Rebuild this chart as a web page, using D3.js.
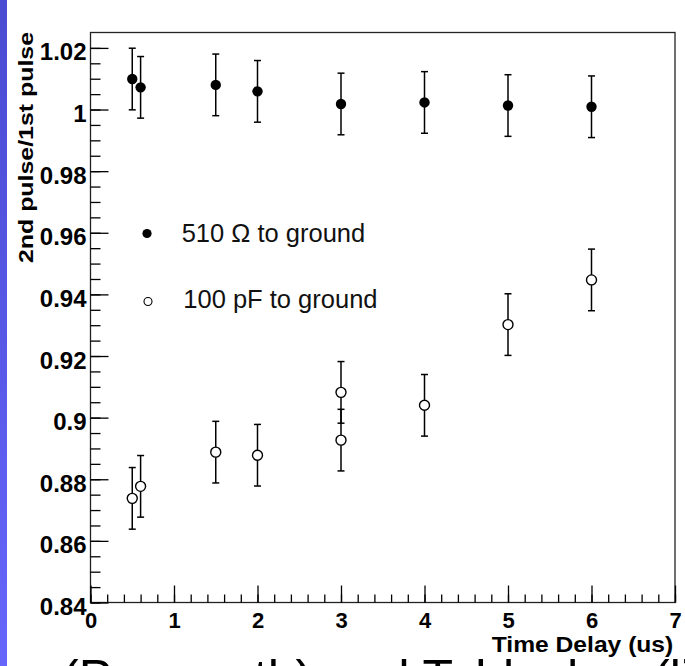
<!DOCTYPE html>
<html>
<head>
<meta charset="utf-8">
<script src="https://cdn.jsdelivr.net/npm/d3@7"></script>
<style>
  html, body { margin: 0; padding: 0; background: #fff; overflow: hidden; }
  svg { display: block; font-family: "Liberation Sans", Arial, Helvetica, sans-serif; }
</style>
</head>
<body>
<div id="chart"></div>
<script>
// values
const xTicks = [0, 1, 2, 3, 4, 5, 6, 7];
const yTicks = [0.84, 0.86, 0.88, 0.9, 0.92, 0.94, 0.96, 0.98, 1, 1.02];

const delay510 = [0.5, 0.6, 1.5, 2, 3, 4, 5, 6];
const ratio510 = [1.0099, 1.0072, 1.0080, 1.0059, 1.0018, 1.0023, 1.0013, 1.0009];
const err510   = [0.01, 0.01, 0.01, 0.01, 0.01, 0.01, 0.01, 0.01];

const delay100 = [0.5, 0.6, 1.5, 2, 3, 3, 4, 5, 6];
const ratio100 = [0.8738, 0.8777, 0.8888, 0.8878, 0.9082, 0.8927, 0.9040, 0.9302, 0.9447];
const err100   = [0.01, 0.01, 0.01, 0.01, 0.01, 0.01, 0.01, 0.01, 0.01];

const W = 685, H = 666;
const svg = d3.select("#chart").append("svg").attr("width", W).attr("height", H);

// slide background strip on the left
const grad = svg.append("defs").append("linearGradient").attr("id", "strip")
  .attr("x1", 0).attr("y1", 0).attr("x2", 0).attr("y2", 1);
grad.append("stop").attr("offset", "0%").attr("stop-color", "#4a4ad2");
grad.append("stop").attr("offset", "100%").attr("stop-color", "#6666fc");
svg.append("rect").attr("x", 0).attr("y", 0).attr("width", 7).attr("height", H).attr("fill", "url(#strip)");

const x = d3.scaleLinear().domain([0, 7]).range([90.5, 675]);
const y = d3.scaleLinear().domain([0.84, 1.025]).range([602.5, 32.5]);

// frame
svg.append("rect")
  .attr("x", x(0)).attr("y", y(1.025))
  .attr("width", x(7) - x(0)).attr("height", y(0.84) - y(1.025))
  .attr("fill", "none").attr("stroke", "#222").attr("stroke-width", 1.3);

// y axis ticks (pointing into the plot)
const yMinor = d3.range(0, 37).map(i => 0.84 + i * 0.005);
svg.append("g").attr("transform", `translate(${x(0)},0)`)
  .call(d3.axisRight(y).tickValues(yMinor).tickSize(10).tickFormat(""))
  .call(g => g.select(".domain").remove())
  .selectAll("line").attr("stroke", "#000").attr("stroke-width", 1.3);
svg.append("g").attr("transform", `translate(${x(0)},0)`)
  .call(d3.axisRight(y).tickValues(yTicks).tickSize(18).tickFormat(""))
  .call(g => g.select(".domain").remove())
  .selectAll("line").attr("stroke", "#000").attr("stroke-width", 1.3);

// y tick labels
const yLab = svg.append("g").attr("transform", `translate(${x(0) - 4},0)`)
  .call(d3.axisLeft(y).tickValues(yTicks).tickSize(0).tickPadding(0).tickFormat(d3.format("~g")));
yLab.select(".domain").remove();
yLab.selectAll("text")
  .attr("dy", null).attr("y", 12).attr("x", 0)
  .attr("font-family", "Liberation Sans, Arial, sans-serif")
  .attr("font-size", 24).attr("font-weight", "bold").attr("fill", "#000");

// x axis ticks (pointing up)
const xMinor = d3.range(0, 36).map(i => i * 0.2);
svg.append("g").attr("transform", `translate(0,${y(0.84)})`)
  .call(d3.axisTop(x).tickValues(xMinor).tickSize(8).tickFormat(""))
  .call(g => g.select(".domain").remove())
  .selectAll("line").attr("stroke", "#000").attr("stroke-width", 1.3);
svg.append("g").attr("transform", `translate(0,${y(0.84)})`)
  .call(d3.axisTop(x).tickValues(xTicks).tickSize(17).tickFormat(""))
  .call(g => g.select(".domain").remove())
  .selectAll("line").attr("stroke", "#000").attr("stroke-width", 1.3);

// x tick labels
const xLab = svg.append("g").attr("transform", `translate(0,${y(0.84)})`)
  .call(d3.axisBottom(x).tickValues(xTicks).tickSize(0).tickPadding(0).tickFormat(d3.format("d")));
xLab.select(".domain").remove();
xLab.selectAll("text")
  .attr("dy", null).attr("y", 25.5)
  .attr("font-family", "Liberation Sans, Arial, sans-serif")
  .attr("font-size", 22).attr("font-weight", "bold").attr("fill", "#000");

// axis titles
svg.append("text")
  .attr("x", 491.7).attr("y", 652)
  .attr("font-size", 22).attr("font-weight", "bold")
  .attr("textLength", 181.6).attr("lengthAdjust", "spacingAndGlyphs")
  .text("Time Delay (us)");

svg.append("text")
  .attr("transform", "translate(33,263) rotate(-90)")
  .attr("font-size", 21).attr("font-weight", "bold")
  .attr("textLength", 231).attr("lengthAdjust", "spacingAndGlyphs")
  .text("2nd pulse/1st pulse");

// series
function drawSeries(xs, ys, es, filled) {
  const pts = xs.map((t, i) => ({ t, v: ys[i], e: es[i] }));
  const g = svg.append("g");
  const eb = g.selectAll("g.err").data(pts).enter().append("g")
    .attr("stroke", "#000").attr("stroke-width", 1.5);
  eb.append("line")
    .attr("x1", d => x(d.t)).attr("x2", d => x(d.t))
    .attr("y1", d => y(d.v - d.e)).attr("y2", d => y(d.v + d.e));
  eb.append("line")
    .attr("x1", d => x(d.t) - 3.5).attr("x2", d => x(d.t) + 3.5)
    .attr("y1", d => y(d.v + d.e)).attr("y2", d => y(d.v + d.e));
  eb.append("line")
    .attr("x1", d => x(d.t) - 3.5).attr("x2", d => x(d.t) + 3.5)
    .attr("y1", d => y(d.v - d.e)).attr("y2", d => y(d.v - d.e));
  g.selectAll("circle").data(pts).enter().append("circle")
    .attr("cx", d => x(d.t)).attr("cy", d => y(d.v))
    .attr("r", filled ? 5.2 : 5)
    .attr("fill", filled ? "#000" : "#fff")
    .attr("stroke", "#000").attr("stroke-width", filled ? 0 : 1.4);
}
drawSeries(delay510, ratio510, err510, true);
drawSeries(delay100, ratio100, err100, false);

// legend
const legend = svg.append("g");
legend.append("circle").attr("cx", 147).attr("cy", 233.5).attr("r", 4.6).attr("fill", "#000");
legend.append("text").attr("x", 181.7).attr("y", 241.7).attr("font-size", 25.5).attr("fill", "#111")
  .text("510 \u03A9 to ground");
legend.append("circle").attr("cx", 148).attr("cy", 301.5).attr("r", 4).attr("fill", "#fff")
  .attr("stroke", "#000").attr("stroke-width", 1.1);
legend.append("text").attr("x", 183.3).attr("y", 308.3).attr("font-size", 25.5).attr("fill", "#111")
  .text("100 pF to ground");

// slide text cut off at the bottom
svg.append("text").attr("x", 62).attr("y", 695).attr("font-size", 50).attr("fill", "#000")
  .text("(Pure path) and Tablesher (li");
</script>
</body>
</html>
